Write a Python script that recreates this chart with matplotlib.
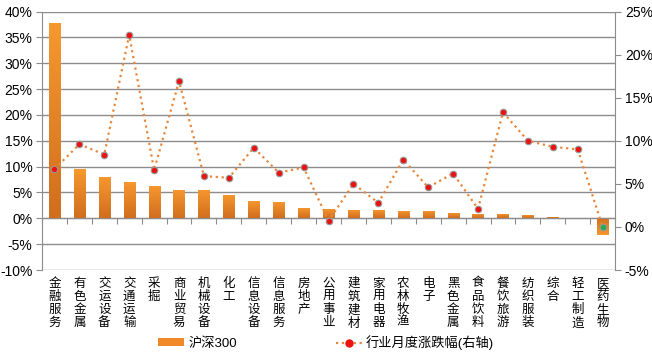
import numpy as np
import matplotlib.pyplot as plt
from matplotlib.lines import Line2D
from matplotlib.patches import Patch
from matplotlib.colors import LinearSegmentedColormap
import matplotlib.transforms as mtransforms

plt.rcParams['font.family'] = ['Liberation Sans', 'Noto Sans CJK SC', 'DejaVu Sans']

# data
industries = ['金融服务', '有色金属', '交运设备', '交通运输', '采掘', '商业贸易', '机械设备',
              '化工', '信息设备', '信息服务', '房地产', '公用事业', '建筑建材', '家用电器',
              '农林牧渔', '电子', '黑色金属', '食品饮料', '餐饮旅游', '纺织服装', '综合',
              '轻工制造', '医药生物']
hs300 = [37.8, 9.5, 8.0, 7.0, 6.2, 5.5, 5.5, 4.5, 3.3, 3.15, 2.0, 1.8, 1.6, 1.6,
         1.4, 1.4, 1.0, 0.8, 0.8, 0.6, 0.2, 0.0, -3.3]
monthly = [6.7, 9.6, 8.4, 22.3, 6.6, 16.9, 5.9, 5.7, 9.2, 6.3, 6.9, 0.7, 5.0, 2.8,
           7.8, 4.6, 6.2, 2.1, 13.3, 10.0, 9.3, 9.0, 0.0]
left_ticks = np.arange(-10, 41, 5)
right_ticks = np.arange(-5, 26, 5)

fig = plt.figure(figsize=(6.52, 3.6), dpi=100)
ax = fig.add_axes([0.0644, 0.25, 0.879, 0.718])
ax2 = ax.twinx()

x = np.arange(len(industries))
grey = '#8c8c8c'

# bars with vertical gradient
cmap = LinearSegmentedColormap.from_list('org', ['#d06e1e', '#f7982f'])
bars = ax.bar(x, hs300, width=0.45, color='#f08a28', zorder=2)
grad = np.linspace(0, 1, 256).reshape(-1, 1)
for b, v in zip(bars, hs300):
    if v == 0:
        continue
    x0 = b.get_x()
    w = b.get_width()
    lo, hi = min(0, v), max(0, v)
    g = grad if v > 0 else grad[::-1]
    im = ax.imshow(g, cmap=cmap, origin='lower', aspect='auto',
                   extent=[x0, x0 + w, lo, hi], zorder=2.5)
    im.set_clip_path(b)

ax.set_xlim(-0.5, len(industries) - 0.5)
ax.set_ylim(-10, 40)
ax.set_yticks(left_ticks)
ax.set_yticklabels([f'{t}%' for t in left_ticks])
ax.grid(axis='y', color=grey, lw=1)
ax.set_axisbelow(True)

ax.spines['top'].set_visible(False)
ax.spines['right'].set_visible(False)
ax.spines['left'].set_color(grey)
ax.spines['bottom'].set_position(('data', 0))
ax.spines['bottom'].set_color(grey)
ax.set_xticks(np.arange(-0.5, len(industries), 1))
ax.set_xticklabels([])
ax.tick_params(axis='x', length=4, color=grey)
ax.tick_params(axis='y', length=4, color=grey, labelsize=10, pad=3)

# line on the right axis
ax2.plot(x, monthly, ls=':', color='#e8873a', lw=1.6, zorder=3)
ax2.scatter(x[:-1], monthly[:-1], s=22, color='#ee1111', edgecolor='#999999', lw=0.8, zorder=4)
ax2.scatter(x[-1:], monthly[-1:], s=22, color='#22aa55', edgecolor='#999999', lw=0.8, zorder=4)
ax2.set_ylim(-5, 25)
ax2.set_yticks(right_ticks)
ax2.set_yticklabels([f'{t}%' for t in right_ticks])
for s in ['top', 'left', 'bottom']:
    ax2.spines[s].set_visible(False)
ax2.spines['right'].set_color(grey)
ax2.tick_params(axis='y', length=4, color=grey, labelsize=10, pad=3)

# vertical category labels
trans = mtransforms.blended_transform_factory(ax.transData, ax.transAxes)
for xi, name in zip(x, industries):
    ax.text(xi, -0.03, '\n'.join(name), transform=trans, ha='center', va='top',
            fontsize=9, linespacing=1.12)

handles = [Patch(facecolor='#f08a28', edgecolor='none'),
           Line2D([], [], ls=':', color='#e8873a', lw=1.6, marker='o', ms=5,
                  mfc='#ee1111', mec='#ee1111')]
fig.legend(handles, ['沪深300', '行业月度涨跌幅(右轴)'], loc='lower center',
           bbox_to_anchor=(0.5, -0.005), ncol=2, frameon=False, fontsize=9.5,
           handlelength=2.0, handleheight=0.5, columnspacing=7.5, handletextpad=0.3)

fig.savefig('out.png', dpi=100)
